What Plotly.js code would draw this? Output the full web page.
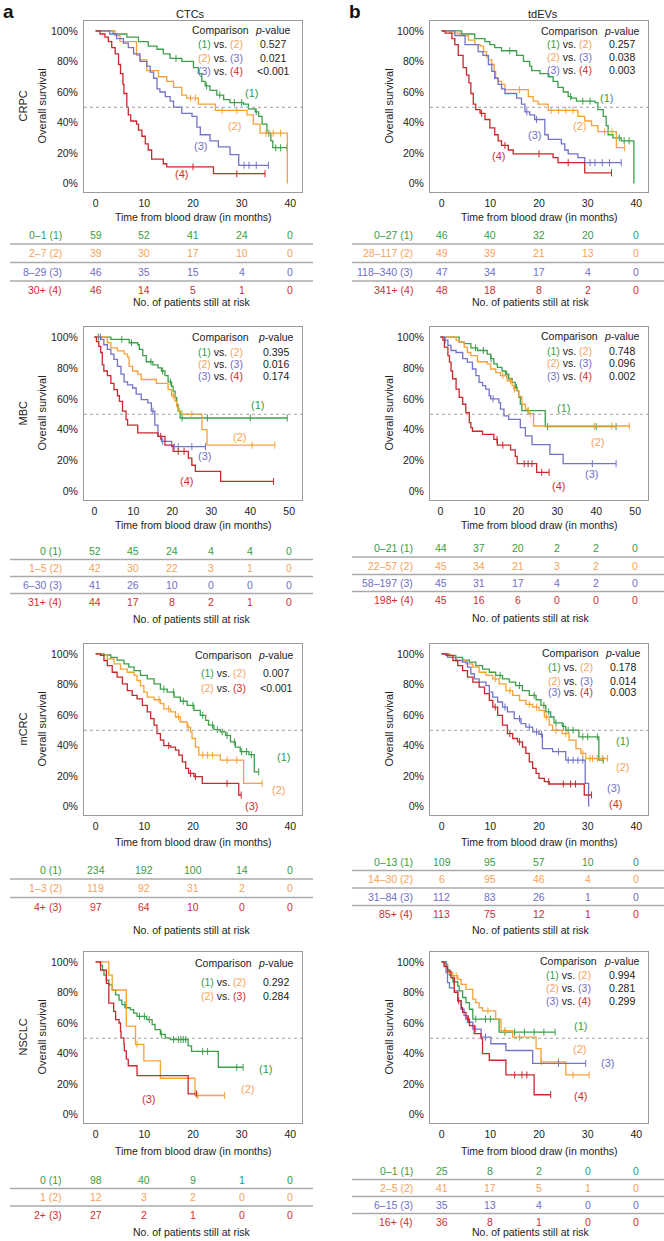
<!DOCTYPE html>
<html><head><meta charset="utf-8">
<script src="https://cdn.plot.ly/plotly-3.0.1.min.js"></script>
<style>html,body{margin:0;padding:0;background:#fff}#chart{width:664px;height:1241px}</style>
</head><body><div id="chart"></div>
<script>
// ================= DATA =================
// CRPC / CTCs
const crpcCtcG_t=[0,3.6,6.4,8.8,10.8,12.6,13.9,15.3,17.7,20.1,21.1,21.8,22.5,23.5,24.9,26.3,27.6,30.4,31.4,32.8,33.5,34.2,35.2,36.0,36.4,39.3];
const crpcCtcG_s=[1,.98,.96,.93,.90,.88,.85,.82,.80,.76,.72,.67,.64,.61,.58,.55,.53,.52,.49,.47,.44,.39,.33,.28,.235,.235];
const crpcCtcG_c=[16.5,22.8,25.5,28.5,30,33,35.6,37,38,39.3];
const crpcCtcO_t=[0,4.0,5.0,8.4,9.1,10.5,12.9,14.6,16.0,17.7,18.7,21.1,24.6,31.1,32.4,33.8,39.4];
const crpcCtcO_s=[1,.97,.93,.84,.81,.74,.70,.67,.63,.58,.56,.52,.48,.45,.39,.33,0];
const crpcCtcO_c=[19.5,20.5,26,29,35,36.5,38];
const crpcCtcB_t=[0,2.9,4.3,5.7,6.7,7.8,9.1,10.5,11.2,11.9,12.6,13.2,14.3,15.3,16.0,17.7,19.8,20.8,21.5,23.5,25.2,27.6,29.4,35.5];
const crpcCtcB_s=[1,.98,.95,.92,.89,.85,.80,.77,.73,.69,.62,.60,.57,.54,.50,.46,.44,.37,.32,.28,.24,.19,.12,.12];
const crpcCtcB_c=[30.5,31.5,33,35.5];
const crpcCtcR_t=[0,.9,1.9,2.6,3.3,4.0,4.7,5.1,5.6,5.8,6.4,6.7,7.2,8.4,8.8,9.5,10.2,10.8,11.5,13.9,14.6,24.2,34.8];
const crpcCtcR_s=[1,.98,.96,.93,.89,.85,.78,.72,.65,.59,.50,.45,.41,.39,.35,.31,.26,.22,.16,.13,.11,.065,.065];
const crpcCtcR_c=[20,29,34.8];
const crpcCtcGroups=["0–1 (1)","2–7 (2)","8–29 (3)","30+ (4)"];
const crpcCtcRisk=[[59,52,41,24,0],[39,30,17,10,0],[46,35,15,4,0],[46,14,5,1,0]];
const crpcCtcP=["0.527","0.021","<0.001"];

// CRPC / tdEVs
const crpcEvG_t=[0,4.1,6.8,8.9,9.9,10.9,12.3,15.4,16.8,18.1,18.5,20.2,21.9,22.9,23.9,25.0,26.0,26.7,27.7,31.5,32.1,33.2,33.8,34.2,35.2,36.9,39.5];
const crpcEvG_s=[1,.98,.95,.93,.91,.89,.87,.84,.80,.77,.74,.72,.70,.67,.63,.60,.57,.56,.54,.53,.485,.44,.38,.32,.30,.28,0];
const crpcEvG_c=[14,26.5,29,30.5,36.5,37.5,38.5];
const crpcEvO_t=[0,1.7,3.8,5.5,6.8,7.9,8.6,9.2,9.6,10.3,10.8,11.1,11.6,12.3,13.0,17.8,18.8,19.8,21.9,28.0,29.4,30.8,32.1,35.9,37.6];
const crpcEvO_s=[1,.985,.97,.94,.91,.90,.865,.83,.81,.78,.735,.69,.67,.65,.615,.57,.54,.52,.48,.44,.41,.38,.34,.235,.235];
const crpcEvO_c=[16,22.5,24,25.5,27,33.5,35,37.6];
const crpcEvB_t=[0,2.7,4.8,7.5,8.5,9.6,10.3,10.9,11.6,12.3,13.0,15.4,16.4,17.1,18.1,19.1,21.2,21.9,24.6,25.3,26.0,28.0,29.4,36.9];
const crpcEvB_s=[1,.97,.91,.865,.84,.78,.735,.69,.65,.62,.59,.56,.52,.47,.45,.42,.32,.29,.26,.22,.195,.17,.137,.137];
const crpcEvB_c=[17.5,19.5,30.5,31.5,33,34.5,36.9];
const crpcEvR_t=[0,.7,2.1,2.7,3.4,4.4,5.1,5.6,6.0,6.5,7.0,7.9,8.9,9.9,10.9,11.6,12.3,13.7,14.7,22.9,23.9,29.4,34.9];
const crpcEvR_s=[1,.985,.95,.91,.84,.76,.71,.66,.59,.52,.485,.46,.42,.365,.32,.28,.25,.22,.195,.17,.137,.07,.07];
const crpcEvR_c=[8.2,13,20,26,34.9];
const crpcEvGroups=["0–27 (1)","28–117 (2)","118–340 (3)","341+ (4)"];
const crpcEvRisk=[[46,40,32,20,0],[49,39,21,13,0],[47,34,17,4,0],[48,18,8,2,0]];
const crpcEvP=["0.257","0.038","0.003"];

// MBC / CTCs
const mbcCtcG_t=[0,4.2,8.9,11.1,11.5,12.4,13.3,15.0,16.3,17.2,18.1,18.9,19.8,20.2,20.7,21.1,21.5,22.0,49.5];
const mbcCtcG_s=[1,.985,.963,.95,.92,.88,.84,.82,.80,.78,.75,.71,.68,.65,.61,.56,.52,.476,.476];
const mbcCtcG_c=[1,7,9.5,14.5,17.5,19.5,22.5,29,40,49.5];
const mbcCtcO_t=[0,3.3,4.2,5.9,7.6,8.5,8.9,9.8,11.1,12.0,15.9,18.9,19.8,20.7,21.1,21.5,22.4,27.6,28.9,46.3];
const mbcCtcO_s=[1,.963,.93,.91,.89,.87,.81,.78,.76,.725,.70,.66,.62,.584,.55,.52,.50,.40,.30,.30];
const mbcCtcO_c=[20.2,21.8,25,40.5,46.3];
const mbcCtcB_t=[0,1.6,2.4,3.3,4.2,5.0,5.9,6.8,7.6,8.5,9.8,10.7,12.0,13.7,14.6,15.5,16.3,17.2,19.8,28.5];
const mbcCtcB_s=[1,.985,.95,.92,.89,.855,.81,.76,.71,.69,.67,.63,.595,.574,.52,.43,.357,.325,.29,.29];
const mbcCtcB_c=[1.5,15,17.5,20.5,21.5,25,28.5];
const mbcCtcR_t=[0,.5,1.1,1.6,2.0,2.4,3.3,4.2,5.0,5.9,6.4,7.2,8.1,8.5,11.1,16.3,18.1,20.2,24.1,25.0,25.9,32.4,46.0];
const mbcCtcR_s=[1,.97,.94,.90,.82,.78,.75,.70,.66,.62,.584,.52,.465,.43,.38,.357,.30,.26,.216,.17,.13,.065,.065];
const mbcCtcR_c=[17,21.5,23,46];
const mbcCtcGroups=["0 (1)","1–5 (2)","6–30 (3)","31+ (4)"];
const mbcCtcRisk=[[52,45,24,4,4,0],[42,30,22,3,1,0],[41,26,10,0,0,0],[44,17,8,2,1,0]];
const mbcCtcP=["0.395","0.016","0.174"];

// MBC / tdEVs
const mbcEvG_t=[0,4.8,6.1,7.8,9.5,12.0,12.9,13.7,14.6,15.8,16.7,17.5,18.4,19.2,19.7,20.1,20.5,20.9,26.9,45.1];
const mbcEvG_s=[1,.967,.957,.93,.913,.89,.86,.826,.804,.78,.76,.73,.706,.674,.652,.61,.565,.523,.42,.42];
const mbcEvG_c=[9,11,13,17,19.5,22.5,27.5,40,45.1];
const mbcEvO_t=[0,4.0,4.8,6.1,6.9,7.8,9.5,12.0,12.9,14.2,15.4,17.1,18.4,18.8,19.7,20.1,20.9,21.8,22.6,23.9,48.5];
const mbcEvO_s=[1,.98,.967,.935,.90,.88,.84,.826,.793,.77,.75,.717,.685,.663,.652,.615,.565,.533,.504,.424,.424];
const mbcEvO_c=[16,18,19,23,39.5,44,48.5];
const mbcEvB_t=[0,1.0,1.9,2.7,4.0,5.7,6.9,8.2,9.1,9.9,10.8,11.6,12.5,12.9,15.0,15.4,16.3,17.5,20.5,21.8,23.5,28.1,31.5,45.1];
const mbcEvB_s=[1,.98,.946,.913,.90,.86,.837,.793,.75,.706,.685,.663,.62,.60,.576,.533,.49,.467,.413,.36,.304,.24,.18,.18];
const mbcEvB_c=[1.2,13.5,39,45.1];
const mbcEvR_t=[0,.6,1.0,1.9,2.3,2.7,3.1,4.0,4.8,5.7,6.5,7.4,7.8,8.2,10.8,13.7,14.6,18.0,19.2,19.7,24.7,27.9];
const mbcEvR_s=[1,.98,.935,.88,.837,.78,.73,.663,.61,.565,.51,.446,.413,.39,.37,.337,.30,.27,.228,.18,.124,.124];
const mbcEvR_c=[14.5,16,21.5,22.5,23.5,26,27.9];
const mbcEvGroups=["0–21 (1)","22–57 (2)","58–197 (3)","198+ (4)"];
const mbcEvRisk=[[44,37,20,2,2,0],[45,34,21,3,2,0],[45,31,17,4,2,0],[45,16,6,0,0,0]];
const mbcEvP=["0.748","0.096","0.002"];

// mCRC / CTCs
const mcrcCtcG_t=[0,1.7,3.1,4.4,5.8,6.8,7.9,9.2,10.6,12.0,13.3,14.7,16.1,17.4,18.8,20.2,21.5,22.6,23.2,24.3,25.6,26.7,27.7,28.7,29.7,31.5,32.6,33.5];
const mcrcCtcG_s=[1,.993,.978,.96,.935,.913,.89,.86,.837,.804,.77,.75,.717,.69,.663,.63,.598,.565,.533,.504,.489,.467,.424,.39,.36,.34,.228,.228];
const mcrcCtcG_c=[14,16,18,20,22,24,25,26,27,28.5,30,31,32,33.5];
const mcrcCtcO_t=[0,1.0,2.4,3.8,5.1,6.5,7.9,8.5,9.2,9.9,10.6,12.0,13.3,14.0,15.4,16.4,17.4,18.8,19.5,19.8,20.5,21.2,25.6,30.4,34.2];
const mcrcCtcO_s=[1,.99,.967,.935,.90,.88,.86,.826,.793,.75,.717,.70,.674,.64,.62,.587,.554,.52,.489,.446,.39,.337,.304,.152,.152];
const mcrcCtcO_c=[13,15,17,19,22,23,24,27,29,34.2];
const mcrcCtcR_t=[0,1.0,1.7,2.4,3.4,4.4,5.5,6.5,7.5,8.5,9.6,10.6,11.3,12.0,12.6,13.3,14.0,15.4,16.4,17.1,17.8,18.5,19.1,20.2,21.9,29.4,29.9];
const mcrcCtcR_s=[1,.99,.957,.924,.88,.848,.804,.76,.728,.706,.663,.62,.576,.533,.478,.435,.40,.39,.37,.337,.293,.25,.217,.196,.152,.076,.076];
const mcrcCtcR_c=[15,19.5,20.5,27,29.9];
const mcrcCtcGroups=["0 (1)","1–3 (2)","4+ (3)"];
const mcrcCtcRisk=[[234,192,100,14,0],[119,92,31,2,0],[97,64,10,0,0]];
const mcrcCtcP=["0.007","<0.001"];

// mCRC / tdEVs
const mcrcEvG_t=[0,1.6,2.9,4.3,5.7,7.0,8.4,9.8,11.1,12.5,13.9,15.2,16.6,18.0,19.4,20.4,21.4,22.4,23.1,24.8,25.5,28.2,32.3,33.2];
const mcrcEvG_s=[1,.99,.978,.96,.946,.924,.90,.88,.86,.837,.815,.793,.76,.728,.70,.663,.62,.587,.548,.526,.50,.457,.304,.304];
const mcrcEvG_c=[12,16,19,21,22,23.5,25,26,27,29,30,32,33.2];
const mcrcEvO_t=[0,1.6,2.9,5.0,6.4,7.7,9.1,10.5,11.8,13.2,14.6,16.0,17.3,18.7,20.0,21.1,22.1,22.8,24.8,26.2,27.6,28.6,29.6,34.1];
const mcrcEvO_s=[1,.978,.957,.935,.913,.88,.86,.837,.804,.76,.728,.696,.67,.652,.63,.587,.533,.50,.478,.435,.38,.348,.315,.315];
const mcrcEvO_c=[11,14,18,19.5,21.5,23.5,25.5,29,30.5,31,32,33,34.1];
const mcrcEvB_t=[0,1.2,2.9,4.3,5.3,6.0,6.7,7.7,9.1,9.8,10.5,11.5,12.5,13.5,14.9,16.3,17.3,18.7,20.0,20.7,22.8,25.5,29.5,30.2];
const mcrcEvB_s=[1,.978,.957,.946,.913,.87,.837,.815,.793,.75,.717,.685,.652,.62,.576,.543,.52,.489,.474,.38,.36,.304,.152,0];
const mcrcEvB_c=[13,16,18,19.5,20.5,24,26,27,28,29];
const mcrcEvR_t=[0,.9,2.3,3.3,4.3,5.3,6.4,7.7,8.8,9.8,10.5,11.5,12.5,13.5,14.6,15.6,16.6,17.3,18.0,18.7,19.4,20.0,21.1,22.1,29.3,30.8];
const mcrcEvR_s=[1,.99,.957,.924,.89,.848,.815,.783,.74,.696,.652,.598,.533,.478,.446,.424,.39,.348,.293,.25,.217,.185,.163,.148,.076,.076];
const mcrcEvR_c=[11,14,16,22,25,26.5,27.5,30.8];
const mcrcEvGroups=["0–13 (1)","14–30 (2)","31–84 (3)","85+ (4)"];
const mcrcEvRisk=[[109,95,57,10,0],[6,95,46,4,0],[112,83,26,1,0],[113,75,12,1,0]];
const mcrcEvP=["0.178","0.014","0.003"];

// NSCLC / CTCs
const nsclcCtcG_t=[0,1.0,1.4,1.7,2.2,2.7,3.4,4.1,4.8,5.4,6.1,7.1,7.8,8.5,10.5,11.6,12.2,13.3,14.3,15.3,19.0,19.7,25.2,30.3];
const nsclcCtcG_s=[1,.978,.946,.914,.88,.85,.816,.784,.75,.72,.70,.687,.665,.644,.622,.59,.557,.525,.503,.492,.45,.414,.31,.31];
const nsclcCtcG_c=[6,9,10,11,13.5,16,17,17.5,18,18.5,22,23,29,30.3];
const nsclcCtcO_t=[0,2.7,3.4,6.3,8.2,9.9,13.3,20.4,26.5];
const nsclcCtcO_s=[1,.914,.816,.579,.46,.352,.238,.125,.125];
const nsclcCtcO_c=[8.5,21,26.5];
const nsclcCtcR_t=[0,1.0,2.2,2.7,3.7,4.1,4.8,5.1,5.2,5.8,5.9,6.3,6.7,8.5,19.0,20.7];
const nsclcCtcR_s=[1,.946,.86,.73,.676,.622,.60,.546,.503,.46,.417,.363,.32,.255,.136,.136];
const nsclcCtcR_c=[20.7];
const nsclcCtcGroups=["0 (1)","1 (2)","2+ (3)"];
const nsclcCtcRisk=[[98,40,9,1,0],[12,3,2,0,0],[27,2,1,0,0]];
const nsclcCtcP=["0.292","0.284"];

// NSCLC / tdEVs
const nsclcEvG_t=[0,.9,1.2,1.6,2.3,3.3,3.6,4.3,5.0,5.7,6.4,11.8,23.3];
const nsclcEvG_s=[1,.983,.95,.914,.87,.842,.81,.767,.734,.69,.626,.54,.54];
const nsclcEvG_c=[2.5,7,9,10,13,15,17,19,21,23.3];
const nsclcEvO_t=[0,.5,1.2,2.3,3.3,4.0,5.0,6.4,7.0,7.7,8.4,11.1,12.2,14.6,19.4,20.4,25.5,30.3];
const nsclcEvO_s=[1,.983,.93,.91,.886,.853,.82,.756,.734,.70,.68,.626,.55,.507,.432,.346,.26,.26];
const nsclcEvO_c=[3,9.5,13,16,20.5,24,27,30.3];
const nsclcEvB_t=[0,.9,1.2,1.6,2.6,3.3,4.0,4.6,5.3,6.4,8.1,10.1,13.2,18.7,29.6];
const nsclcEvB_s=[1,.93,.864,.83,.81,.745,.69,.648,.605,.56,.507,.464,.42,.335,.335];
const nsclcEvB_c=[7,9,24,29.6];
const nsclcEvR_t=[0,.5,1.2,1.9,2.6,3.3,4.0,4.3,5.0,5.7,6.7,8.1,8.4,9.8,13.2,19.0,22.4];
const nsclcEvR_s=[1,.97,.94,.896,.80,.745,.70,.67,.626,.583,.53,.497,.40,.356,.26,.13,.13];
const nsclcEvR_c=[3.5,5.5,15,16.5,17.5,22.4];
const nsclcEvGroups=["0–1 (1)","2–5 (2)","6–15 (3)","16+ (4)"];
const nsclcEvRisk=[[25,8,2,0,0],[41,17,5,1,0],[35,13,4,0,0],[36,8,1,0,0]];
const nsclcEvP=["0.994","0.281","0.299"];

const timeTicks40=[0,10,20,30,40];
const timeTicks50=[0,10,20,30,40,50];
const survTicks=[0,0.2,0.4,0.6,0.8,1];
const cancerNames=["CRPC","MBC","mCRC","NSCLC"];

// ================= STYLE / LAYOUT =================
const W=664,H=1241;
const FONT='"Liberation Sans", Arial, Helvetica, sans-serif';
const LC={g:'#3c9f4a',o:'#f7a136',b:'#7373c9',r:'#c9282d'};
const TC={g:'#3a9c46',o:'#f5a35c',b:'#6f6fc6',r:'#cf2f2f'};
const FS=10.5;

const P=[
 {col:0,top:21,bottom:192,ticks:timeTicks40,xr:[-2.4,42.4],
  curves:[[crpcCtcG_t,crpcCtcG_s,crpcCtcG_c,'g'],[crpcCtcO_t,crpcCtcO_s,crpcCtcO_c,'o'],[crpcCtcB_t,crpcCtcB_s,crpcCtcB_c,'b'],[crpcCtcR_t,crpcCtcR_s,crpcCtcR_c,'r']],
  lab:[[32.1,.594],[28.5,.375],[21.5,.245],[17.7,.064]], groups:crpcCtcGroups, risk:crpcCtcRisk, pv:crpcCtcP,
  cmp:{cx:220,px:273,hy:30,ry:[44,58,71]}, rows:[235,253,272,290], xt:217, foot:302, name:cancerNames[0]},
 {col:1,top:21,bottom:192,ticks:timeTicks40,xr:[-2.4,42.4],
  curves:[[crpcEvG_t,crpcEvG_s,crpcEvG_c,'g'],[crpcEvO_t,crpcEvO_s,crpcEvO_c,'o'],[crpcEvB_t,crpcEvB_s,crpcEvB_c,'b'],[crpcEvR_t,crpcEvR_s,crpcEvR_c,'r']],
  lab:[[33.8,.56],[28.4,.376],[19.1,.32],[11.6,.18]], groups:crpcEvGroups, risk:crpcEvRisk, pv:crpcEvP,
  cmp:{cx:569,px:622,hy:31,ry:[44,57,70]}, rows:[235,253,272,290], xt:217, foot:302},
 {col:0,top:327,bottom:500,ticks:timeTicks50,xr:[-2.7,53.3],
  curves:[[mbcCtcG_t,mbcCtcG_s,mbcCtcG_c,'g'],[mbcCtcO_t,mbcCtcO_s,mbcCtcO_c,'o'],[mbcCtcB_t,mbcCtcB_s,mbcCtcB_c,'b'],[mbcCtcR_t,mbcCtcR_s,mbcCtcR_c,'r']],
  lab:[[41.9,.558],[37.3,.35],[28.3,.227],[23.7,.065]], groups:mbcCtcGroups, risk:mbcCtcRisk, pv:mbcCtcP,
  cmp:{cx:220,px:276,hy:337,ry:[352,364,376]}, rows:[551,568,585,602], xt:525, foot:619, name:cancerNames[1]},
 {col:1,top:327,bottom:500,ticks:timeTicks50,xr:[-2.7,53.3],
  curves:[[mbcEvG_t,mbcEvG_s,mbcEvG_c,'g'],[mbcEvO_t,mbcEvO_s,mbcEvO_c,'o'],[mbcEvB_t,mbcEvB_s,mbcEvB_c,'b'],[mbcEvR_t,mbcEvR_s,mbcEvR_c,'r']],
  lab:[[31.5,.543],[40.4,.32],[38.7,.113],[30.3,.033]], groups:mbcEvGroups, risk:mbcEvRisk, pv:mbcEvP,
  cmp:{cx:569,px:622,hy:336,ry:[351,363,376]}, rows:[548,566,583,600], xt:525, foot:618},
 {col:0,top:644,bottom:815,ticks:timeTicks40,xr:[-2.4,42.4],
  curves:[[mcrcCtcG_t,mcrcCtcG_s,mcrcCtcG_c,'g'],[mcrcCtcO_t,mcrcCtcO_s,mcrcCtcO_c,'o'],[mcrcCtcR_t,mcrcCtcR_s,mcrcCtcR_c,'r']],
  lab:[[38.6,.326],[37.6,.109],[32.1,.004]], groups:mcrcCtcGroups, risk:mcrcCtcRisk, pv:mcrcCtcP,
  cmp:{cx:224,px:276,hy:655,ry:[673,688]}, rows:[870,888,907], xt:842, foot:930, name:cancerNames[2]},
 {col:1,top:644,bottom:815,ticks:timeTicks40,xr:[-2.4,42.4],
  curves:[[mcrcEvG_t,mcrcEvG_s,mcrcEvG_c,'g'],[mcrcEvO_t,mcrcEvO_s,mcrcEvO_c,'o'],[mcrcEvB_t,mcrcEvB_s,mcrcEvB_c,'b'],[mcrcEvR_t,mcrcEvR_s,mcrcEvR_c,'r']],
  lab:[[37.1,.43],[37.1,.257],[35.4,.12],[35.8,.017]], groups:mcrcEvGroups, risk:mcrcEvRisk, pv:mcrcEvP,
  cmp:{cx:570,px:623,hy:653,ry:[667,681,692]}, rows:[862,879,897,914], xt:842, foot:930},
 {col:0,top:952,bottom:1123,ticks:timeTicks40,xr:[-2.4,42.4],
  curves:[[nsclcCtcG_t,nsclcCtcG_s,nsclcCtcG_c,'g'],[nsclcCtcO_t,nsclcCtcO_s,nsclcCtcO_c,'o'],[nsclcCtcR_t,nsclcCtcR_s,nsclcCtcR_c,'r']],
  lab:[[35.0,.30],[31.3,.168],[10.9,.104]], groups:nsclcCtcGroups, risk:nsclcCtcRisk, pv:nsclcCtcP,
  cmp:{cx:224,px:276,hy:963,ry:[982,996]}, rows:[1180,1197,1215], xt:1151, foot:1232, name:cancerNames[3]},
 {col:1,top:952,bottom:1123,ticks:timeTicks40,xr:[-2.4,42.4],
  curves:[[nsclcEvG_t,nsclcEvG_s,nsclcEvG_c,'g'],[nsclcEvO_t,nsclcEvO_s,nsclcEvO_c,'o'],[nsclcEvB_t,nsclcEvB_s,nsclcEvB_c,'b'],[nsclcEvR_t,nsclcEvR_s,nsclcEvR_c,'r']],
  lab:[[28.6,.583],[28.4,.432],[34.1,.34],[28.6,.119]], groups:nsclcEvGroups, risk:nsclcEvRisk, pv:nsclcEvP,
  cmp:{cx:568,px:622,hy:961,ry:[975,988,1001]}, rows:[1171,1188,1205,1222], xt:1151, foot:1232}
];
const COLX=[[84,302],[430,648]];
const LABEL_RIGHT=[64,415];
const TABLE_LINE=[[10,313],[352,664]];
const FOOT_X=[191,530];
const YT_X=[[22,41],[388,388]];

const px=x=>x/W, py=y=>1-y/H;
const traces=[], annotations=[], shapes=[];
const layout={width:W,height:H,margin:{l:0,r:0,t:0,b:0},paper_bgcolor:'#fff',plot_bgcolor:'#fff',
  showlegend:false,font:{family:FONT,size:FS,color:'#222'},annotations,shapes};

function ann(o){annotations.push(Object.assign({showarrow:false,xanchor:'center',yanchor:'middle',
  font:{family:FONT,size:FS,color:'#222'}},o));}
function stepVal(t,s,ct){let v=s[0];for(let i=0;i<t.length;i++){if(t[i]<=ct)v=s[i];}return v;}

P.forEach((p,i)=>{
  const n=i+1, xs=n===1?'x':'x'+n, ys=n===1?'y':'y'+n;
  const [l,r]=COLX[p.col];
  layout['xaxis'+(n===1?'':n)]={domain:[px(l),px(r)],range:p.xr,anchor:ys,showline:true,mirror:true,
    linecolor:'#9a9a9a',linewidth:1,showgrid:false,zeroline:false,tickvals:p.ticks,ticks:'outside',ticklen:1,
    tickcolor:'rgba(0,0,0,0)',tickfont:{family:FONT,size:FS,color:'#222'},fixedrange:true};
  layout['yaxis'+(n===1?'':n)]={domain:[py(p.bottom),py(p.top)],range:[-0.055,1.065],anchor:xs,showline:true,mirror:true,
    linecolor:'#9a9a9a',linewidth:1,showgrid:false,zeroline:false,tickvals:survTicks,tickformat:'.0%',ticks:'outside',ticklen:3,
    tickcolor:'rgba(0,0,0,0)',tickfont:{family:FONT,size:FS,color:'#222'},fixedrange:true};
  shapes.push({type:'line',xref:xs,yref:ys,x0:p.xr[0],x1:p.xr[1],y0:0.5,y1:0.5,line:{color:'#a0a0a0',width:1,dash:'dot'}});
  p.curves.forEach(([t,s,c,k],gi)=>{
    traces.push({x:t,y:s,xaxis:xs,yaxis:ys,mode:'lines',line:{shape:'hv',color:LC[k],width:1.3},hoverinfo:'skip'});
    traces.push({x:c,y:c.map(ct=>stepVal(t,s,ct)),xaxis:xs,yaxis:ys,mode:'markers',
      marker:{symbol:'line-ns',size:5,line:{color:LC[k],width:1}},hoverinfo:'skip'});
    ann({xref:xs,yref:ys,x:p.lab[gi][0],y:p.lab[gi][1],text:'('+(gi+1)+')',font:{family:FONT,size:11,color:TC[k]}});
  });
  const ks=p.curves.map(c=>c[3]);
  ann({xref:'paper',yref:'paper',x:px(p.cmp.cx),y:py(p.cmp.hy),text:'Comparison'});
  ann({xref:'paper',yref:'paper',x:px(p.cmp.px),y:py(p.cmp.hy),text:'<i>p</i>-value'});
  p.pv.forEach((v,j)=>{
    const a=ks[j], b=ks[j+1];
    ann({xref:'paper',yref:'paper',x:px(p.cmp.cx),y:py(p.cmp.ry[j]),
      text:'<span style="color:'+TC[a]+'">('+(j+1)+')</span> vs. <span style="color:'+TC[b]+'">('+(j+2)+')</span>'});
    ann({xref:'paper',yref:'paper',x:px(p.cmp.px),y:py(p.cmp.ry[j]),text:v});
  });
  ann({xref:'paper',yref:'paper',x:px((l+r)/2),y:py(p.xt),text:'Time from blood draw (in months)'});
  const yc=py((p.top+p.bottom)/2);
  if(p.col===0){
    ann({xref:'paper',yref:'paper',x:px(YT_X[0][0]),y:yc,text:p.name,textangle:-90,font:{family:FONT,size:11,color:'#222'}});
    ann({xref:'paper',yref:'paper',x:px(YT_X[0][1]),y:yc,text:'Overall survival',textangle:-90,font:{family:FONT,size:11,color:'#222'}});
  } else {
    ann({xref:'paper',yref:'paper',x:px(YT_X[1][0]),y:yc,text:'Overall survival',textangle:-90,font:{family:FONT,size:11,color:'#222'}});
  }
  p.groups.forEach((g,j)=>{
    const k=ks[j];
    ann({xref:'paper',yref:'paper',x:px(LABEL_RIGHT[p.col]),xanchor:'right',y:py(p.rows[j]),text:g,font:{family:FONT,size:FS,color:TC[k]}});
    p.risk[j].forEach((v,m)=>{
      ann({xref:xs,yref:'paper',x:p.ticks[m],y:py(p.rows[j]),text:String(v),font:{family:FONT,size:FS,color:TC[k]}});
    });
    if(j<p.groups.length-1){
      const ly=(p.rows[j]+p.rows[j+1])/2;
      shapes.push({type:'line',xref:'paper',yref:'paper',x0:px(TABLE_LINE[p.col][0]),x1:px(TABLE_LINE[p.col][1]),
        y0:py(ly),y1:py(ly),line:{color:'#aaaaaa',width:1.5}});
    }
  });
  ann({xref:'paper',yref:'paper',x:px(FOOT_X[p.col]),y:py(p.foot),text:'No. of patients still at risk'});
});

ann({xref:'paper',yref:'paper',x:px(2),xanchor:'left',yanchor:'top',y:py(0),borderpad:0,text:'<b>a</b>',font:{family:FONT,size:19,color:'#111'}});
ann({xref:'paper',yref:'paper',x:px(348),xanchor:'left',yanchor:'top',y:py(0),borderpad:0,text:'<b>b</b>',font:{family:FONT,size:19,color:'#111'}});
ann({xref:'paper',yref:'paper',x:px(190),y:py(14),text:'CTCs',font:{family:FONT,size:11,color:'#222'}});
ann({xref:'paper',yref:'paper',x:px(543),y:py(14),text:'tdEVs',font:{family:FONT,size:11,color:'#222'}});

Plotly.newPlot('chart',traces,layout,{staticPlot:true,displayModeBar:false});
</script></body></html>
